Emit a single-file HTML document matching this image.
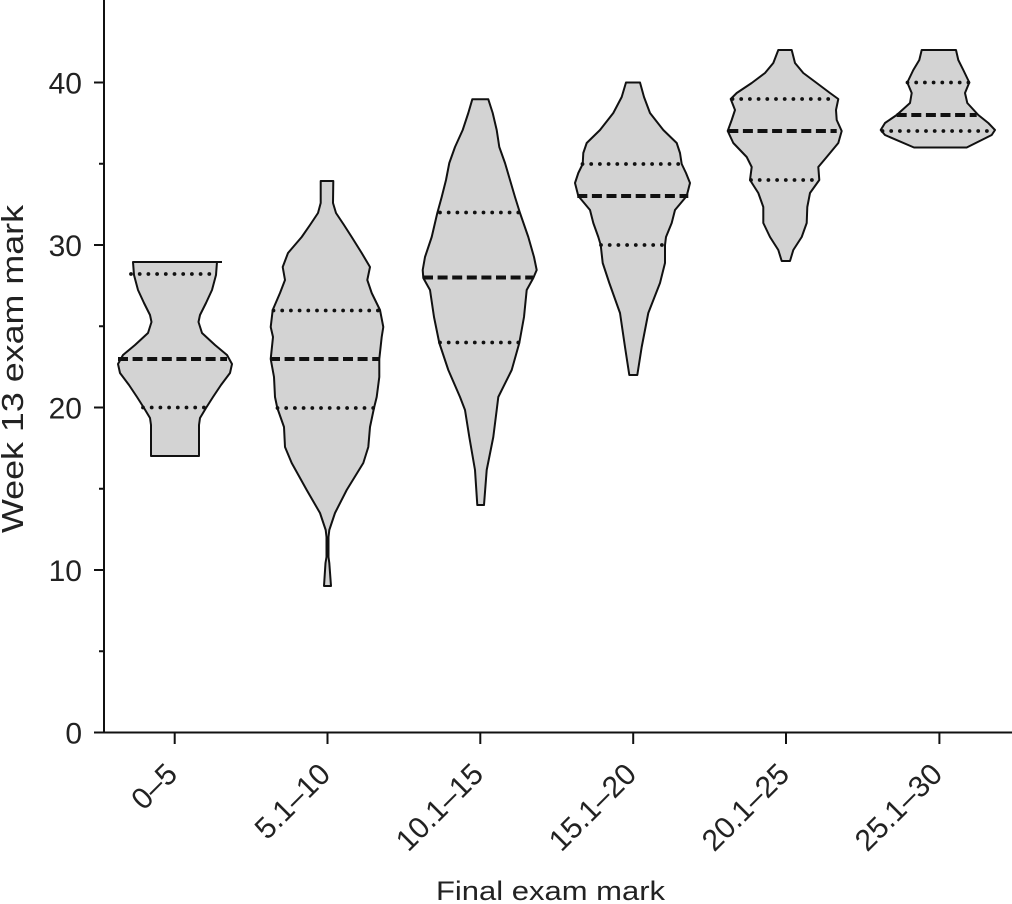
<!DOCTYPE html>
<html>
<head>
<meta charset="utf-8">
<style>
  html,body{margin:0;padding:0;background:#fff;}
  svg{display:block;}
  text{font-family:"Liberation Sans", Arial, sans-serif; fill:#222;}
</style>
</head>
<body>
<svg width="1012" height="904" viewBox="0 0 1012 904" xmlns="http://www.w3.org/2000/svg">
  <rect width="1012" height="904" fill="#fff"/>

  <g fill="#d3d3d3" stroke="#111" stroke-width="2" stroke-linejoin="round">
    <!-- Violin 1: 0–5 -->
    <polygon points="
      133,262 134,275 138,290 144,303 150,315 151.5,322 148,333 135,345 123,355 118,364 120,373 129,385 137,397 144,408 150,418 151,425 151,456
      199,456 199,425 200,418 206,408 213,397 221,385 230,373 232,364 227,355 215,345 202,333 198.5,322 200,315 206,303 212,290 216,275 217,262"/>
    <line x1="217" y1="262" x2="222" y2="262"/>

    <!-- Violin 2: 5.1–10 -->
    <polygon points="
      320.7,181 320.7,203 318,213 310,225 301.7,237 288,253 282.7,267 285,280 280,293 272.7,310 270.7,327 273,337 270.7,359 274,377 275,397 277.3,408 284,427 285,447 291.7,463 306.7,490 320,513 325.7,530 326.5,537 326.5,557 325.5,563 324,586
      331,586 329.3,563 328.5,557 328.5,537 329.3,530 335,513 346.7,490 363.3,463 368.3,447 370,427 374,408 376.7,397 379.3,377 379.3,359 381.7,337 383.3,327 380,310 371.7,293 367.3,280 370,267 361.7,253 351.7,237 344,225 336,213 333,203 333.3,181"/>

    <!-- Violin 3: 10.1–15 -->
    <polygon points="
      472.3,99.3 468.3,113 462.7,130 455,147 449.3,163 446,180 441.7,197 437.3,213 431.7,237 425,257 422.7,270 423.3,278 430,290 434,317 439.3,343 448.3,370 460,397 465,410 469.3,437 475,470 477.3,505
      484,505 486.7,470 493.3,437 496.7,410 498.3,397 511.7,370 519.3,343 524,317 526.7,290 533.3,278 536.7,270 534,257 528.3,237 520,213 515,197 510,180 505,163 499.3,147 496.7,130 492.7,113 488.3,99.3"/>

    <!-- Violin 4: 15.1–20 -->
    <polygon points="
      626,82.5 621.7,97 613.3,113 600,130 586.7,143 583.3,153 582.7,164 578.3,173 575,183 578.3,196 590,210 593.3,223 598.3,237 600.7,245 602.7,263 609.3,283 620,313 625,347 629.3,375
      637.3,375 641.7,347 648.3,313 660,283 665,263 665,245 666,237 671.7,223 675,210 686.7,196 690,183 686,173 681.7,164 680,153 676.7,143 663.3,130 650,113 644,97 640,82.5"/>

    <!-- Violin 5: 20.1–25 -->
    <polygon points="
      778.3,50 773.3,63 765,73 751.7,83 736.7,93 730.7,99 735,110 731.7,120 727.7,131 733.3,143 746.7,157 751.7,167 750,180 758.3,193 763.3,207 763.3,223 770,237 778.3,250 781.7,261
      790,261 793.3,250 801.7,237 806.7,223 807.3,207 810,193 819.3,180 818.3,167 826.7,157 838.3,143 841.7,131 836.7,120 836,110 838.3,99 830,93 816.7,83 803.3,73 795,63 791.7,50"/>

    <!-- Violin 6: 25.1–30 -->
    <polygon points="
      921.7,50 919.3,60 913.3,70 907.3,82.5 911.7,93 910,103 896.7,115 885,123 880.7,130 885,135 914,147.5
      966.7,147.5 991.7,135 995,130 988.3,123 978.3,115 967.3,103 965,93 969.3,82.5 963.3,70 958.3,60 956,50"/>
  </g>

  <!-- Medians (dashed) -->
  <g stroke="#111" stroke-width="4" stroke-dasharray="10 4.6" fill="none">
    <line x1="118" y1="359" x2="227" y2="359"/>
    <line x1="270" y1="359" x2="379.3" y2="359"/>
    <line x1="423" y1="277.5" x2="533" y2="277.5"/>
    <line x1="577.3" y1="196" x2="688.3" y2="196"/>
    <line x1="728.3" y1="131" x2="836.7" y2="131"/>
    <line x1="896.7" y1="115" x2="976.7" y2="115"/>
  </g>

  <!-- Quartiles (dotted) -->
  <g stroke="#111" stroke-width="3.8" stroke-dasharray="0 8.7" stroke-linecap="round" fill="none">
    <line x1="131" y1="274" x2="211" y2="274"/>
    <line x1="143" y1="407.5" x2="205" y2="407.5"/>
    <line x1="273.5" y1="310.5" x2="380" y2="310.5"/>
    <line x1="277.5" y1="408" x2="375" y2="408"/>
    <line x1="440" y1="212.5" x2="520" y2="212.5"/>
    <line x1="440" y1="342.5" x2="519" y2="342.5"/>
    <line x1="582.5" y1="164" x2="680" y2="164"/>
    <line x1="601" y1="245" x2="664" y2="245"/>
    <line x1="732.5" y1="99" x2="836" y2="99"/>
    <line x1="751" y1="180" x2="813" y2="180"/>
    <line x1="907.5" y1="82.5" x2="969" y2="82.5"/>
    <line x1="882.5" y1="131" x2="993" y2="131"/>
  </g>

  <!-- Axes -->
  <g stroke="#111" stroke-width="2" fill="none">
    <line x1="104" y1="0" x2="104" y2="733.5"/>
    <line x1="94" y1="732.5" x2="1012" y2="732.5"/>
    <line x1="94" y1="570" x2="104" y2="570"/>
    <line x1="94" y1="407.5" x2="104" y2="407.5"/>
    <line x1="94" y1="245" x2="104" y2="245"/>
    <line x1="94" y1="82.5" x2="104" y2="82.5"/>
    <line x1="99" y1="651.25" x2="104" y2="651.25"/>
    <line x1="99" y1="488.75" x2="104" y2="488.75"/>
    <line x1="99" y1="326.25" x2="104" y2="326.25"/>
    <line x1="99" y1="163.75" x2="104" y2="163.75"/>
    <line x1="174.7" y1="732.5" x2="174.7" y2="744"/>
    <line x1="327.5" y1="732.5" x2="327.5" y2="744"/>
    <line x1="480.3" y1="732.5" x2="480.3" y2="744"/>
    <line x1="633.2" y1="732.5" x2="633.2" y2="744"/>
    <line x1="786" y1="732.5" x2="786" y2="744"/>
    <line x1="939.4" y1="732.5" x2="939.4" y2="744"/>
  </g>

  <!-- Y tick labels -->
  <g font-size="30" text-anchor="end">
    <text x="82" y="743.5">0</text>
    <text x="82" y="581">10</text>
    <text x="82" y="418.5">20</text>
    <text x="82" y="256">30</text>
    <text x="82" y="93.5">40</text>
  </g>

  <!-- X tick labels -->
  <g font-size="30" text-anchor="end">
    <text transform="translate(179,776) rotate(-45)">0–5</text>
    <text transform="translate(332,776) rotate(-45)">5.1–10</text>
    <text transform="translate(485,776) rotate(-45)">10.1–15</text>
    <text transform="translate(638,776) rotate(-45)">15.1–20</text>
    <text transform="translate(791,776) rotate(-45)">20.1–25</text>
    <text transform="translate(944,776) rotate(-45)">25.1–30</text>
  </g>

  <!-- Axis titles -->
  <text x="436" y="900" font-size="27" textLength="229" lengthAdjust="spacingAndGlyphs">Final exam mark</text>
  <text transform="translate(23,533) rotate(-90)" font-size="31" textLength="328" lengthAdjust="spacingAndGlyphs">Week 13 exam mark</text>
</svg>
</body>
</html>
